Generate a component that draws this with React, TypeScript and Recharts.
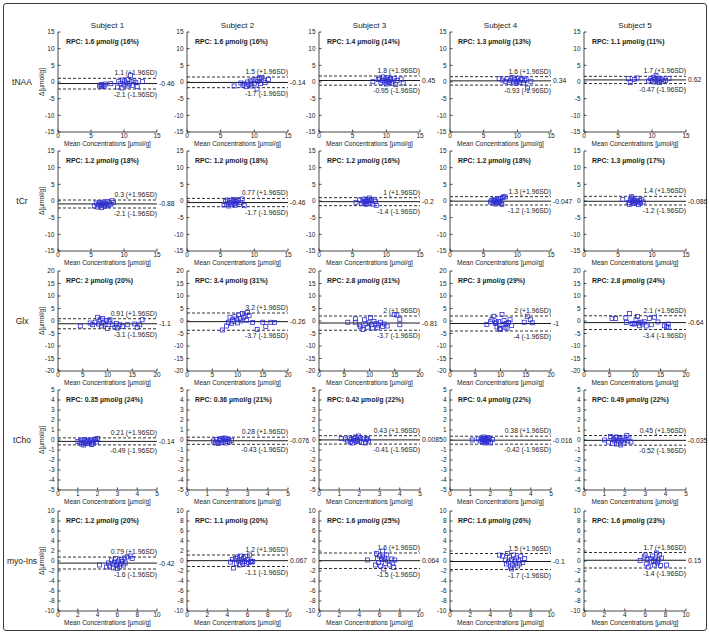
import React from 'react';
import { ScatterChart, Scatter, XAxis, YAxis, ReferenceLine } from 'recharts';

const metabolites = ['tNAA', 'tCr', 'Glx', 'tCho', 'myo-Ins'];
const subjects = ['Subject 1', 'Subject 2', 'Subject 3', 'Subject 4', 'Subject 5'];

const xDomains = [[0, 15], [0, 15], [0, 20], [0, 5], [0, 10]];
const yDomains = [[-15, 15], [-15, 15], [-20, 20], [-5, 5], [-10, 10]];
const xTicks = [
  [0, 5, 10, 15],
  [0, 5, 10, 15],
  [0, 5, 10, 15, 20],
  [0, 1, 2, 3, 4, 5],
  [0, 2, 4, 6, 8, 10],
];
const yTicks = [
  [-15, -10, -5, 0, 5, 10, 15],
  [-15, -10, -5, 0, 5, 10, 15],
  [-20, -15, -10, -5, 0, 5, 10, 15, 20],
  [-5, -4, -3, -2, -1, 0, 1, 2, 3, 4, 5],
  [-10, -8, -6, -4, -2, 0, 2, 4, 6, 8, 10],
];

// rows = metabolites, columns = subjects
const biasValues = [
  [-0.46, -0.14, 0.45, 0.34, 0.62],
  [-0.88, -0.46, -0.2, -0.047, -0.086],
  [-1.1, -0.26, -0.81, -1, -0.64],
  [-0.14, -0.076, 0.0085, -0.016, -0.035],
  [-0.42, 0.067, 0.064, -0.1, 0.15],
];
const upperLimits = [
  [1.1, 1.5, 1.8, 1.6, 1.7],
  [0.3, 0.77, 1, 1.3, 1.4],
  [0.91, 3.2, 2, 2, 2.1],
  [0.21, 0.28, 0.43, 0.38, 0.45],
  [0.79, 1.2, 1.6, 1.5, 1.7],
];
const lowerLimits = [
  [-2.1, -1.7, -0.95, -0.93, -0.47],
  [-2.1, -1.7, -1.4, -1.2, -1.2],
  [-3.1, -3.7, -3.7, -4, -3.4],
  [-0.49, -0.43, -0.41, -0.42, -0.52],
  [-1.6, -1.1, -1.5, -1.7, -1.4],
];
const rpcValues = [
  [1.6, 1.6, 1.4, 1.3, 1.1],
  [1.2, 1.2, 1.2, 1.2, 1.3],
  [2, 3.4, 2.8, 3, 2.8],
  [0.35, 0.36, 0.42, 0.4, 0.49],
  [1.2, 1.1, 1.6, 1.6, 1.6],
];
const rpcPercents = [
  [16, 16, 14, 13, 11],
  [18, 18, 16, 18, 17],
  [20, 31, 31, 29, 24],
  [24, 21, 22, 22, 22],
  [20, 20, 25, 26, 23],
];

// [mean concentration, difference] per subject
const tNAAPoints = [
  [[6.3, -1.2], [6.5, -0.8], [6.6, -1.4], [6.8, -1.0], [7.0, -1.3], [7.2, -0.6], [8.0, -0.5], [9.0, -1.5], [9.2, 0.2], [9.5, -0.4], [9.7, -1.8], [9.8, 0.6], [10.0, -0.9], [10.1, 0.3], [10.3, -0.3], [10.5, -1.2], [10.6, 0.8], [10.8, -0.6], [11.0, 2.0], [11.1, 0.1], [11.3, -1.0], [11.5, 0.4], [11.8, -0.2], [12.0, -1.4], [12.8, 0.1]],
  [[7.0, -1.2], [8.0, -0.3], [8.3, -1.0], [8.5, -0.6], [8.8, -1.4], [9.0, 0.0], [9.2, -0.8], [9.4, 0.3], [9.5, -0.6], [9.6, -1.2], [9.8, 0.6], [10.0, -0.4], [10.2, 0.8], [10.4, -2.1], [10.5, 0.2], [10.7, 1.2], [10.8, 1.0], [10.9, -0.5], [11.1, 1.4], [11.4, 0.5], [11.6, -0.2], [12.1, 0.8]],
  [[8.0, 0.1], [8.8, 0.8], [9.0, 1.2], [9.2, -0.3], [9.4, 0.5], [9.5, 1.5], [9.7, 0.0], [9.8, 0.9], [10.0, -0.6], [10.1, 0.4], [10.2, 1.3], [10.3, 0.2], [10.4, -0.2], [10.5, 0.7], [10.6, 1.0], [10.8, -0.4], [11.0, 0.3], [11.2, 1.1], [11.4, -0.8], [11.6, 0.5], [12.2, 0.9], [12.5, -0.3]],
  [[7.3, 1.0], [7.8, 0.6], [8.2, 0.2], [8.5, 1.0], [8.8, -0.2], [9.0, 0.5], [9.2, 1.4], [9.4, 0.0], [9.6, 0.8], [9.8, -0.4], [9.9, 0.1], [10.0, 1.2], [10.1, 0.3], [10.3, -0.1], [10.5, 0.7], [10.7, 1.0], [10.9, -0.3], [11.1, 0.4], [11.3, 0.9], [11.5, -1.8], [12.0, 0.2]],
  [[6.5, 1.0], [6.8, -0.2], [7.4, 0.8], [7.8, 1.2], [9.5, 0.3], [9.8, 1.0], [10.0, 0.5], [10.2, 1.4], [10.3, 0.0], [10.5, 0.8], [10.6, 2.0], [10.8, 0.3], [10.9, 0.6], [11.0, 1.1], [11.1, -0.2], [11.3, 0.6], [11.5, 0.9], [11.7, 0.2], [12.0, 0.5], [12.5, 1.0]],
];
const tCrPoints = [
  [[5.5, -1.5], [5.8, -0.6], [6.0, -1.8], [6.1, -1.0], [6.3, -0.4], [6.4, -1.4], [6.5, -0.9], [6.6, -2.0], [6.7, -0.7], [6.9, -1.2], [7.0, -0.3], [7.1, -1.6], [7.2, -0.8], [7.4, -1.1], [7.5, -0.2], [7.6, -1.4], [7.8, -0.6], [8.0, -1.0], [8.2, 0.1], [8.4, -0.5]],
  [[5.5, -1.2], [5.7, -0.2], [5.9, -0.9], [6.0, 0.3], [6.2, -1.5], [6.3, -0.5], [6.5, 0.2], [6.6, -1.0], [6.8, -0.3], [6.9, 0.5], [7.0, -0.8], [7.1, -1.3], [7.2, -0.2], [7.3, 0.0], [7.4, -0.6], [7.6, 0.4], [7.8, -1.0], [8.0, -0.4], [8.2, 0.6], [8.5, -1.4]],
  [[5.5, -0.4], [6.0, 0.3], [6.3, -0.8], [6.5, 0.0], [6.7, -0.5], [6.8, 0.6], [6.9, -0.1], [7.0, -1.0], [7.1, -0.2], [7.2, 0.4], [7.3, 0.1], [7.4, -0.7], [7.5, 0.9], [7.6, -0.3], [7.8, 0.2], [8.0, -0.9], [8.2, 0.5], [8.4, -0.1], [8.5, -1.3]],
  [[6.0, -0.3], [6.2, 0.2], [6.4, -0.6], [6.5, 0.4], [6.6, 0.1], [6.7, -0.1], [6.8, -0.9], [6.9, -0.5], [7.0, 0.3], [7.1, -0.4], [7.2, 0.6], [7.3, 0.0], [7.4, -0.2], [7.5, 0.8], [7.6, -0.7], [7.7, -1.0], [7.8, 1.0], [8.0, 1.3], [8.2, 1.2]],
  [[5.7, 0.5], [6.5, -0.5], [6.7, -1.0], [6.8, 0.3], [6.9, 0.9], [7.0, 1.3], [7.1, -0.3], [7.2, 0.6], [7.3, 0.0], [7.4, -0.8], [7.5, 0.1], [7.6, -0.4], [7.8, 0.7], [7.9, -0.2], [8.0, -1.1], [8.2, 0.2], [8.3, -0.6], [8.5, 0.4], [8.7, -0.3]],
];
const glxPoints = [
  [[4.5, -2.0], [6.5, -0.8], [7.0, -1.5], [7.5, -0.5], [8.0, 1.5], [8.2, -1.2], [8.5, 0.5], [8.8, -2.0], [9.0, 1.0], [9.2, -0.8], [9.5, -1.5], [9.8, 0.2], [10.0, -3.0], [10.3, -0.3], [10.5, 0.5], [11.0, -1.5], [11.5, -2.5], [11.8, -1.0], [12.0, -2.8], [12.5, -1.5], [13.0, -2.2], [14.0, -1.5], [15.5, -1.2], [16.0, -2.5], [16.5, -1.5], [17.0, 0.5]],
  [[7.0, -3.6], [7.8, -2.0], [8.2, -0.5], [8.5, 1.5], [8.8, -1.0], [9.0, 0.5], [9.3, -0.2], [9.5, 1.8], [9.8, 0.8], [10.0, -0.8], [10.2, 2.5], [10.5, 1.0], [10.7, 0.0], [11.0, 3.0], [11.2, 1.5], [11.5, 2.0], [11.8, 0.3], [12.0, 3.4], [12.3, 2.2], [13.0, -0.6], [13.9, -3.4], [15.0, -0.5], [15.6, -2.2], [16.6, -0.5], [17.3, -0.6]],
  [[5.7, -0.5], [7.2, 0.9], [7.2, -0.5], [8.0, -1.5], [8.2, -2.3], [8.7, -3.4], [9.0, 0.5], [9.3, -1.2], [9.6, -2.5], [9.9, -0.7], [10.2, 1.4], [10.4, -1.5], [10.6, -2.8], [10.9, -0.2], [11.3, -1.0], [11.6, -2.6], [11.8, -1.6], [12.2, -0.5], [12.6, -2.2], [12.9, -1.2], [13.5, -2.0], [14.9, 2.6], [15.4, 2.4], [16.0, 0.7], [16.0, -1.5]],
  [[7.3, -1.4], [8.0, -0.3], [8.3, 0.6], [8.7, 1.9], [9.0, -1.0], [9.2, -0.5], [9.3, -2.4], [9.6, -0.2], [9.8, -3.0], [10.0, -3.4], [10.3, 2.6], [10.5, -1.5], [10.7, 0.2], [10.9, -2.5], [11.1, -1.0], [11.3, -2.9], [11.6, -0.6], [11.9, 0.5], [12.2, -1.8], [14.7, -0.5], [15.3, 1.9], [15.9, 0.5], [16.3, -0.7]],
  [[5.5, 1.0], [6.2, 1.0], [8.2, 1.3], [8.3, -0.6], [8.9, 3.0], [9.4, -1.0], [9.6, -1.2], [9.9, -1.1], [10.2, 0.5], [10.5, 1.8], [10.7, -0.8], [10.9, -1.9], [11.2, -0.5], [11.5, -1.2], [11.8, -0.3], [12.2, -2.0], [12.8, 1.0], [13.2, -1.5], [13.8, 1.5], [14.5, -0.4], [15.8, -1.9], [16.2, -2.3], [16.5, -1.2], [16.5, -2.6]],
];
const tChoPoints = [
  [[1.0, -0.15], [1.1, -0.3], [1.15, 0.0], [1.2, -0.4], [1.25, -0.1], [1.3, -0.25], [1.3, -0.5], [1.35, 0.05], [1.4, -0.35], [1.45, -0.15], [1.5, -0.05], [1.55, -0.3], [1.6, -0.2], [1.65, 0.0], [1.7, -0.4], [1.7, -0.45], [1.75, -0.1], [1.8, -0.3], [1.85, 0.05], [1.9, 0.1], [1.95, -0.2], [2.0, 0.15]],
  [[1.3, -0.1], [1.4, -0.3], [1.45, 0.05], [1.5, -0.2], [1.55, -0.35], [1.6, 0.1], [1.65, -0.05], [1.7, -0.25], [1.75, 0.15], [1.8, -0.1], [1.85, 0.2], [1.9, -0.3], [1.9, 0.1], [1.95, 0.0], [2.0, -0.15], [2.05, 0.1], [2.1, -0.2], [2.2, -0.05]],
  [[1.1, 0.15], [1.3, 0.1], [1.4, -0.1], [1.5, 0.2], [1.55, -0.2], [1.6, 0.05], [1.65, -0.3], [1.7, 0.15], [1.75, -0.05], [1.8, 0.3], [1.85, -0.15], [1.9, 0.0], [1.95, 0.4], [2.0, -0.1], [2.05, 0.2], [2.1, -0.25], [2.2, 0.1], [2.3, -0.3], [2.35, 0.05], [2.4, 0.15], [2.45, -0.1]],
  [[1.1, 0.0], [1.4, 0.1], [1.5, -0.1], [1.55, 0.2], [1.6, -0.2], [1.62, 0.05], [1.65, 0.3], [1.68, -0.15], [1.7, -0.05], [1.72, 0.15], [1.75, -0.3], [1.78, 0.1], [1.8, -0.1], [1.82, 0.2], [1.85, 0.0], [1.88, 0.25], [1.9, -0.15], [1.95, 0.1], [2.0, -0.3], [2.1, 0.05]],
  [[1.0, 0.0], [1.2, -0.2], [1.3, 0.35], [1.4, -0.35], [1.45, 0.1], [1.5, -0.1], [1.55, 0.25], [1.6, -0.4], [1.6, 0.3], [1.65, 0.0], [1.7, -0.2], [1.75, 0.15], [1.8, -0.5], [1.85, -0.05], [1.9, 0.2], [1.95, -0.3], [2.0, 0.0], [2.1, 0.45], [2.15, -0.1], [2.2, 0.2], [2.3, -0.2]],
];
const myoInsPoints = [
  [[4.2, -0.8], [4.9, -1.2], [5.1, -0.4], [5.2, -1.0], [5.4, 0.2], [5.5, -0.6], [5.6, -1.4], [5.7, -0.2], [5.8, 0.5], [5.9, -0.9], [6.0, -0.4], [6.0, -1.5], [6.1, 0.0], [6.2, -1.2], [6.3, -0.6], [6.4, 0.3], [6.5, -0.1], [6.6, -0.8], [6.7, 0.6], [6.8, -0.4], [7.0, 0.8], [7.3, 1.0], [7.5, 0.5]],
  [[4.3, -0.2], [4.5, 0.3], [4.6, -1.4], [4.8, 0.5], [4.9, -0.5], [5.0, 0.8], [5.1, 0.0], [5.2, -0.8], [5.3, 1.0], [5.4, 0.2], [5.5, -0.4], [5.6, 0.6], [5.7, -0.1], [5.8, 0.9], [5.9, -0.6], [6.0, 0.3], [6.1, -0.3], [6.2, 1.2], [6.3, 0.0], [6.4, -0.2], [6.5, -0.1]],
  [[4.8, 0.2], [5.6, -0.8], [5.7, 1.5], [5.8, 0.5], [5.9, -0.3], [6.0, 1.0], [6.1, -1.0], [6.2, 0.3], [6.3, 2.0], [6.3, 0.8], [6.4, -1.6], [6.5, 0.6], [6.6, -0.5], [6.7, 1.2], [6.8, 0.0], [7.0, -0.8], [7.2, 0.4], [7.3, -0.4], [7.4, -1.3], [7.5, 0.2]],
  [[4.9, 1.2], [5.2, 1.0], [5.5, 0.2], [5.6, -0.6], [5.7, 1.5], [5.8, -0.2], [5.9, 0.8], [6.0, -1.2], [6.1, 0.3], [6.1, -1.6], [6.2, -0.8], [6.3, 1.2], [6.4, 0.0], [6.5, -0.5], [6.6, 0.6], [6.7, -1.0], [6.8, 0.2], [6.9, -0.6], [7.0, 1.0], [7.2, -0.3], [7.4, 0.5]],
  [[5.5, 0.1], [5.9, 0.8], [6.0, 1.2], [6.1, -0.6], [6.2, 0.3], [6.3, -1.2], [6.5, 0.5], [6.6, -0.2], [6.7, 1.0], [6.8, 0.0], [6.9, -0.8], [7.0, 0.4], [7.0, -0.1], [7.1, 1.6], [7.2, -0.4], [7.3, 0.2], [7.4, 1.2], [7.5, -0.9], [7.6, 0.6], [8.1, -0.8]],
];
const pointSets = [tNAAPoints, tCrPoints, glxPoints, tChoPoints, myoInsPoints];

// layout of the 5x5 grid (plot-area positions in the page)
const PLOT_LEFT = [58, 187, 319, 450, 584];
const PLOT_WIDTH = [99, 101, 101, 101, 102];
const PLOT_TOP = [32, 151, 271, 390, 511];
const PLOT_HEIGHT = 100;
const AXIS_W = 30;
const TOP_M = 20;
const RIGHT_M = 40;
const XAXIS_H = 15;
const BOTTOM_M = 5;

const FONT = '"Liberation Sans", Arial, Helvetica, sans-serif';
const INK = '#1a1a1a';
const BLUE = '#3030d2';

const Square = (props: any) => {
  const { cx, cy } = props;
  if (cx == null || cy == null) return <g />;
  return <rect x={cx - 2} y={cy - 2} width={4} height={4} fill="none" stroke={BLUE} strokeWidth={0.8} />;
};

const axisLine = { stroke: INK, strokeWidth: 0.8 };
const tickText = { fontSize: 6.5, fill: INK, fontFamily: FONT };

function Panel({ row, col }: { row: number; col: number }) {
  const data = pointSets[row][col].map(([x, y]) => ({ x, y }));
  const yMax = yDomains[row][1];
  const w = AXIS_W + PLOT_WIDTH[col] + RIGHT_M;
  const h = TOP_M + PLOT_HEIGHT + XAXIS_H + BOTTOM_M;
  const rpc = `RPC: ${rpcValues[row][col]} \u00b5mol/g (${rpcPercents[row][col]}%)`;

  const topLabels = (p: any) => {
    const vb = p.viewBox;
    return (
      <g>
        <text x={vb.x + 8} y={vb.y + 12} fontSize={6.9} fontWeight="bold" fill={INK} fontFamily={FONT}>
          {rpc}
        </text>
        {row === 0 && (
          <text x={vb.x + vb.width / 2} y={vb.y - 4} fontSize={8} fill={INK} fontFamily={FONT} textAnchor="middle">
            {subjects[col]}
          </text>
        )}
      </g>
    );
  };
  const upperLabel = (p: any) => {
    const vb = p.viewBox;
    return (
      <text x={vb.x + vb.width} y={vb.y - 3} fontSize={6.8} fill={INK} fontFamily={FONT} textAnchor="end">
        {`${upperLimits[row][col]} (+1.96SD)`}
      </text>
    );
  };
  const lowerLabel = (p: any) => {
    const vb = p.viewBox;
    return (
      <text x={vb.x + vb.width} y={vb.y + 8} fontSize={6.8} fill={INK} fontFamily={FONT} textAnchor="end">
        {`${lowerLimits[row][col]} (-1.96SD)`}
      </text>
    );
  };
  const biasLabel = (p: any) => {
    const vb = p.viewBox;
    return (
      <text x={vb.x + vb.width + 2} y={vb.y + 2.5} fontSize={6.8} fill={INK} fontFamily={FONT}>
        {`${biasValues[row][col]}`}
      </text>
    );
  };
  const xLabel = (p: any) => {
    const vb = p.viewBox;
    return (
      <text x={vb.x + vb.width / 2} y={vb.y + 13.5} fontSize={6.5} fill={INK} fontFamily={FONT} textAnchor="middle">
        Mean Concentrations [{'\u00b5'}mol/g]
      </text>
    );
  };
  const yLabel = (p: any) => {
    const vb = p.viewBox;
    const cx = vb.x + 16;
    const cy = vb.y + vb.height / 2;
    return (
      <text x={cx} y={cy} fontSize={6.6} fill={INK} fontFamily={FONT} textAnchor="middle" transform={`rotate(-90, ${cx}, ${cy})`}>
        {'\u0394[\u00b5mol/g]'}
      </text>
    );
  };

  return (
    <div style={{ position: 'absolute', left: PLOT_LEFT[col] - AXIS_W, top: PLOT_TOP[row] - TOP_M }}>
      <ScatterChart width={w} height={h} margin={{ top: TOP_M, right: RIGHT_M, bottom: BOTTOM_M, left: 0 }} style={{ overflow: 'visible' }}>
        <XAxis
          type="number"
          dataKey="x"
          domain={xDomains[row]}
          ticks={xTicks[row]}
          interval={0}
          height={XAXIS_H}
          tickSize={-2.5}
          tickMargin={4}
          tick={tickText}
          axisLine={axisLine}
          tickLine={axisLine}
          allowDataOverflow
          label={xLabel}
        />
        <YAxis
          type="number"
          dataKey="y"
          domain={yDomains[row]}
          ticks={yTicks[row]}
          interval={0}
          width={AXIS_W}
          tickSize={-2.5}
          tickMargin={6}
          tick={tickText}
          axisLine={axisLine}
          tickLine={axisLine}
          allowDataOverflow
          label={col === 0 ? yLabel : undefined}
        />
        <ReferenceLine y={yMax} stroke="none" label={topLabels} />
        <ReferenceLine y={upperLimits[row][col]} stroke={INK} strokeWidth={0.9} strokeDasharray="3 2" label={upperLabel} />
        <ReferenceLine y={lowerLimits[row][col]} stroke={INK} strokeWidth={0.9} strokeDasharray="3 2" label={lowerLabel} />
        <ReferenceLine y={biasValues[row][col]} stroke={INK} strokeWidth={1} label={biasLabel} />
        <Scatter data={data} shape={Square} isAnimationActive={false} />
      </ScatterChart>
    </div>
  );
}

export default function App() {
  return (
    <div style={{ position: 'absolute', left: 0, top: 0, width: 709, height: 634, background: '#fff', fontFamily: FONT }}>
      <div
        style={{
          position: 'absolute',
          left: 3,
          top: 3,
          width: 704,
          height: 628,
          boxSizing: 'border-box',
          border: '1.5px solid #3a3a3a',
          borderRadius: 3,
        }}
      />
      {metabolites.map((m, r) => (
        <div
          key={m}
          style={{
            position: 'absolute',
            left: 0,
            width: 44,
            top: PLOT_TOP[r] + PLOT_HEIGHT / 2 - 6,
            height: 12,
            lineHeight: '12px',
            textAlign: 'center',
            fontSize: 8.5,
            color: INK,
          }}
        >
          {m}
        </div>
      ))}
      {metabolites.map((m, r) => subjects.map((s, c) => <Panel key={`${m}-${s}`} row={r} col={c} />))}
    </div>
  );
}
